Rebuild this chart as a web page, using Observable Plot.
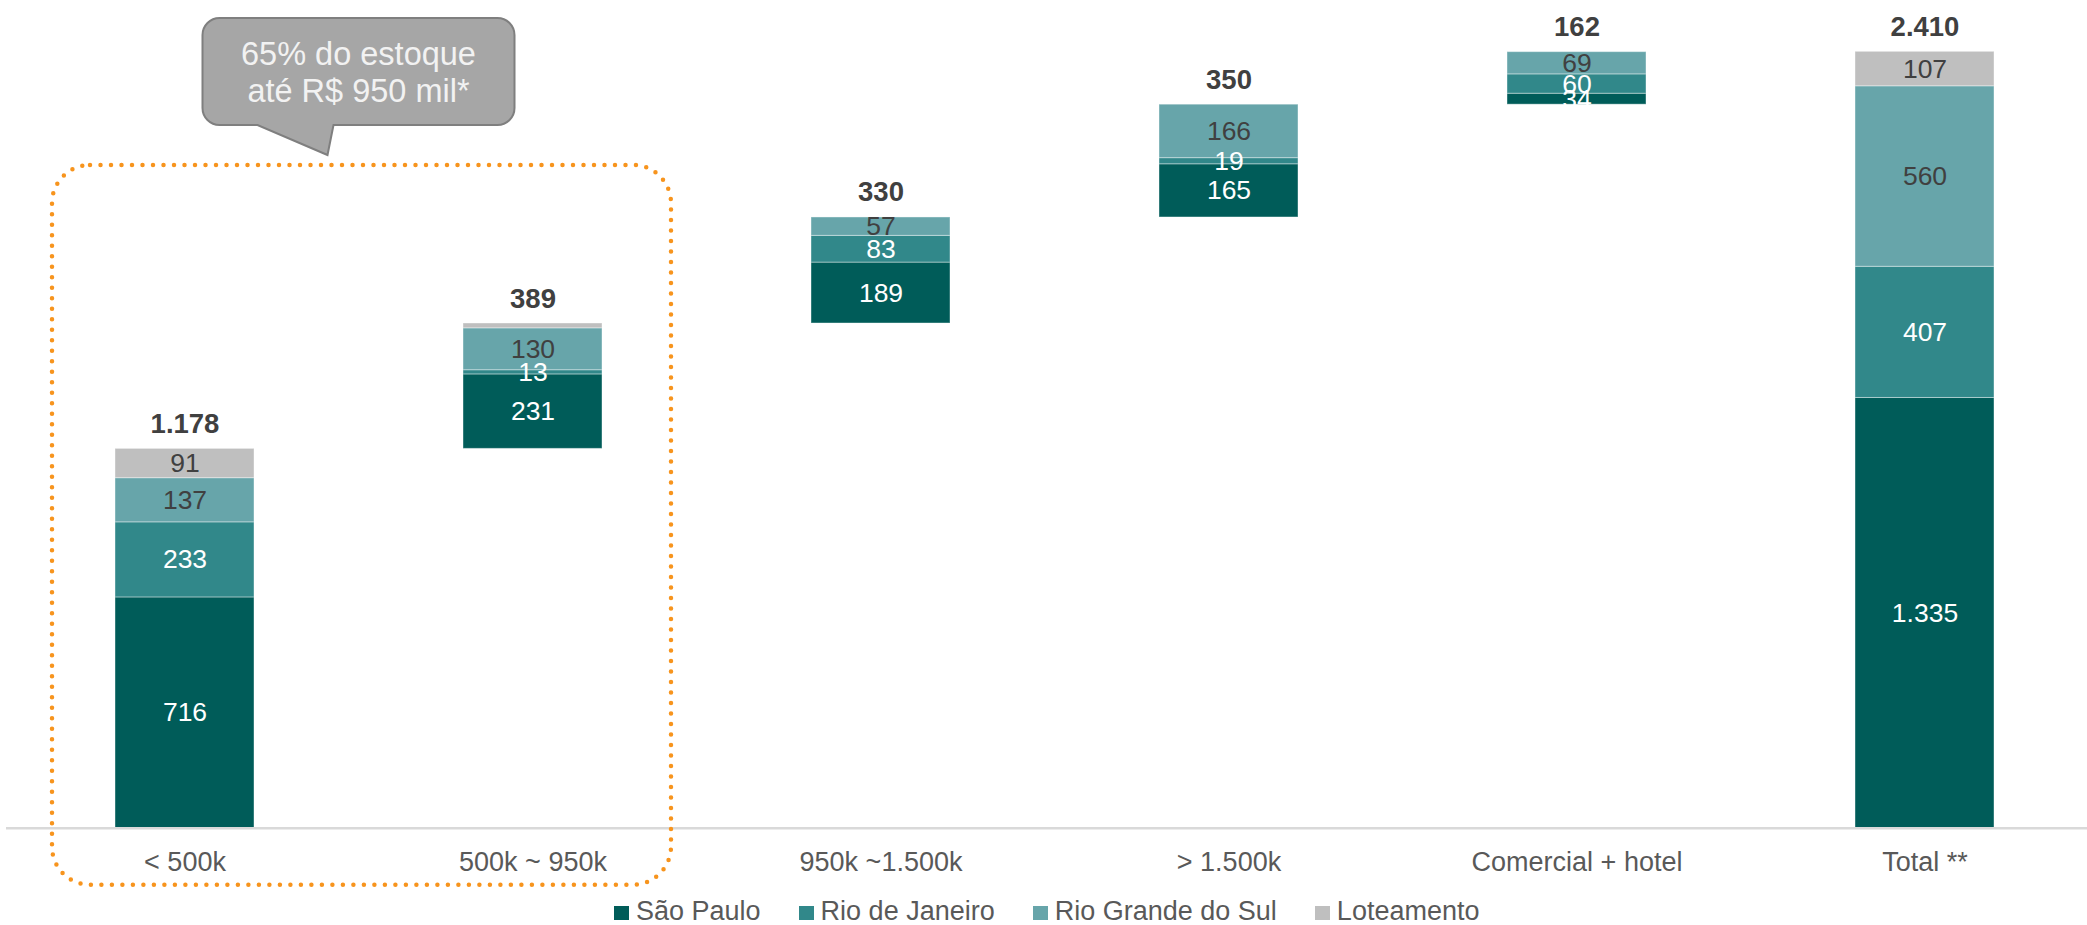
<!DOCTYPE html>
<html>
<head>
<meta charset="utf-8">
<script src="https://cdn.jsdelivr.net/npm/d3@7"></script>
<script src="https://cdn.jsdelivr.net/npm/@observablehq/plot@0.6"></script>
<style>
  html, body { margin: 0; padding: 0; background: white; }
  body { width: 2087px; height: 925px; position: relative; overflow: hidden; font-family: "Liberation Sans", Arial, sans-serif; }
  #chart svg { display: block; }
  #legend { position: absolute; top: 898px; left: 614px; white-space: nowrap; font-size: 27px; line-height: 27px; color: #595959; }
  #legend .item { display: inline-block; margin-right: 38px; }
  #legend .sw { display: inline-block; width: 15px; height: 14px; margin-right: 7px; vertical-align: baseline; }
</style>
</head>
<body>
<div id="chart"></div>
<div id="legend"></div>
<script>
const categories = ["< 500k", "500k ~ 950k", "950k ~1.500k", "> 1.500k", "Comercial + hotel", "Total **"];
const series = ["São Paulo", "Rio de Janeiro", "Rio Grande do Sul", "Loteamento"];
const saoPaulo = [716, 231, 189, 165, 34, 1335];
const rioDeJaneiro = [233, 13, 83, 19, 60, 407];
const rioGrandeDoSul = [137, 130, 57, 166, 69, 560];
const loteamento = [91, 15, 0, 0, 0, 107];
const totalLabels = [1178, 389, 330, 350, 162, 2410];
const colors = ["#005c59", "#31888a", "#67a5aa", "#bfbfbf"];
const labelColors = ["white", "white", "#404040", "#404040"];
const unlabeled = [["500k ~ 950k", "Loteamento"]];

const seriesValues = [saoPaulo, rioDeJaneiro, rioGrandeDoSul, loteamento];
const fmt = d3.formatLocale({decimal: ",", thousands: ".", grouping: [3], currency: ["R$", ""]}).format(",d");

// waterfall: each category starts where the previous one ended; the total starts at 0
const rows = [];
const tops = [];
let running = 0;
categories.forEach((cat, i) => {
  const isTotal = i === categories.length - 1;
  let cum = isTotal ? 0 : running;
  series.forEach((s, j) => {
    const v = seriesValues[j][i];
    if (v > 0) rows.push({category: cat, series: s, si: j, value: v, y1: cum, y2: cum + v});
    cum += v;
  });
  tops.push({category: cat, top: cum, label: fmt(totalLabels[i])});
  if (!isTotal) running = cum;
});

const isLabeled = d => !unlabeled.some(([c, s]) => c === d.category && s === d.series);
const H = 892;
const baseY = 827.7;

const chart = Plot.plot({
  width: 2087,
  height: H,
  marginTop: 51,
  marginBottom: H - baseY,
  marginLeft: 6,
  marginRight: 0,
  x: {domain: categories, range: [0, 2110], paddingInner: 0.6, paddingOuter: 0.323},
  y: {domain: [0, 2410], axis: null},
  color: {domain: series, range: colors},
  style: {fontFamily: "'Liberation Sans', Arial, sans-serif", background: "white", overflow: "visible"},
  marks: [
    Plot.barY(rows, {x: "category", y1: "y1", y2: "y2", fill: "series", stroke: "white", strokeOpacity: 0.4, strokeWidth: 1}),
    Plot.text(rows.filter(d => isLabeled(d) && labelColors[d.si] === "white"), {
      x: "category", y: d => (d.y1 + d.y2) / 2, text: d => fmt(d.value),
      fill: "white", fontSize: 26.5, lineAnchor: "middle"
    }),
    Plot.text(rows.filter(d => isLabeled(d) && labelColors[d.si] !== "white"), {
      x: "category", y: d => (d.y1 + d.y2) / 2, text: d => fmt(d.value),
      fill: "#404040", fontSize: 26.5, lineAnchor: "middle"
    }),
    Plot.text(tops, {
      x: "category", y: "top", text: "label", fill: "#404040",
      fontSize: 27.5, fontWeight: "bold", lineAnchor: "bottom", dy: -16
    }),
    Plot.ruleY([0], {stroke: "#d9d9d9", strokeWidth: 2.5}),
    Plot.axisX({tickSize: 0, tickPadding: 24, fontSize: 27, fill: "#595959", label: null})
  ]
});

document.getElementById("chart").appendChild(chart);

// annotations positioned from the scales
const xs = chart.scale("x");
const ys = chart.scale("y");
const bw = xs.bandwidth;
const c0 = xs.apply(categories[0]) + bw / 2;
const c1 = xs.apply(categories[1]) + bw / 2;
const y0px = ys.apply(0);
const svg = d3.select(chart);

// dotted orange frame around the first two categories
svg.append("rect")
  .attr("x", c0 - 132.5).attr("y", 165)
  .attr("width", (c1 + 138.5) - (c0 - 132.5)).attr("height", (y0px + 57) - 165)
  .attr("rx", 38).attr("ry", 38)
  .attr("fill", "none").attr("stroke", "#f7941d").attr("stroke-width", 4.5)
  .attr("stroke-dasharray", "0 10.5").attr("stroke-linecap", "round");

// callout
const cx = (c0 + c1) / 2;
const bx0 = cx - 156, bx1 = cx + 156, by0 = 18, by1 = 125, r = 17;
const tl = cx - 101, tr = cx - 25, tipX = cx - 31, tipY = 155;
const path = `M${bx0 + r},${by0} H${bx1 - r} A${r},${r} 0 0 1 ${bx1},${by0 + r} V${by1 - r} A${r},${r} 0 0 1 ${bx1 - r},${by1} H${tr} L${tipX},${tipY} L${tl},${by1} H${bx0 + r} A${r},${r} 0 0 1 ${bx0},${by1 - r} V${by0 + r} A${r},${r} 0 0 1 ${bx0 + r},${by0} Z`;
svg.append("path").attr("d", path).attr("fill", "#a6a6a6").attr("stroke", "#7f7f7f").attr("stroke-width", 2);
const calloutLines = ["65% do estoque", "até R$ 950 mil*"];
calloutLines.forEach((t, i) => {
  svg.append("text").attr("x", cx).attr("y", 65 + i * 36.7)
    .attr("text-anchor", "middle").attr("fill", "#f2f2f2")
    .attr("font-size", 32.5).attr("font-family", "'Liberation Sans', Arial, sans-serif")
    .text(t);
});

// legend
const legend = document.getElementById("legend");
series.forEach((s, i) => {
  const item = document.createElement("span");
  item.className = "item";
  const sw = document.createElement("span");
  sw.className = "sw";
  sw.style.background = colors[i];
  item.appendChild(sw);
  item.appendChild(document.createTextNode(s));
  legend.appendChild(item);
});
</script>
</body>
</html>
